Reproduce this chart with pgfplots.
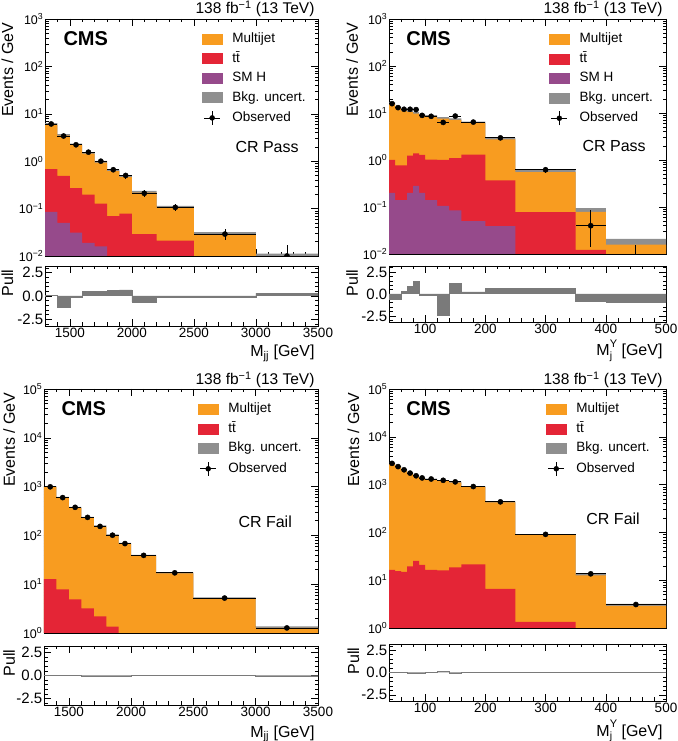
\documentclass[border=0pt]{standalone}
\usepackage{fontspec}
\setmainfont{Liberation Sans}
\usepackage{pgfplots}
\pgfplotsset{compat=1.18}
\definecolor{mj}{HTML}{F89C20}
\definecolor{ttc}{HTML}{E42536}
\definecolor{smh}{HTML}{964A8B}
\definecolor{unc}{HTML}{8F8F8F}
\definecolor{pullc}{HTML}{7A7A7A}
\newcommand{\lumi}{138 fb\textsuperscript{−1} (13 TeV)}
\newcommand{\ttbar}{t\={t}}
\newcommand{\labfont}{\fontsize{16}{18}\selectfont}
\newcommand{\mjy}{M\rlap{\raisebox{-3.8pt}{\fontsize{10.5}{11}\selectfont j}}\raisebox{8.5pt}{\fontsize{11}{12}\selectfont Y} [GeV]}
\pgfplotsset{
  cmsbase/.style={
    scale only axis, anchor=south west, clip mode=individual,
    axis line style={black, line width=0.6pt},
    every tick/.style={black, line width=0.5pt},
    major tick length=7pt, minor tick length=3.5pt,
    xticklabel style={font=\fontsize{13.5}{15}\selectfont, inner sep=2pt,
      /pgf/number format/assume math mode=true, /pgf/number format/set thousands separator={}},
    yticklabel style={font=\fontsize{12.5}{14}\selectfont, inner sep=1.5pt},
  },
  cmsmain/.style={cmsbase, xticklabels={},
    log number format basis/.code 2 args={%
      \pgfmathtruncatemacro\cmsexp{round(##2)}%
      ##1\textsuperscript{\ifnum\cmsexp<0 −\the\numexpr-\cmsexp\relax\else\cmsexp\fi}},
    legend cell align=left,
    legend style={draw=none, fill=none, inner sep=0pt, outer sep=0pt, anchor=north west,
      font=\fontsize{13.5}{15}\selectfont, row sep=6.5pt, column sep=10pt,
      nodes={inner sep=0pt, text height=10pt, text depth=3pt}},
  },
  cmspull/.style={cmsbase, ymin=-3.2, ymax=3.2, ytick={-2.5,0,2.5}, yticklabels={-2.5,0.0,2.5},
    minor ytick={-3,-2.5,...,3}, yticklabel style={font=\fontsize{15}{16}\selectfont}},
  legbox/.style={legend image code/.code={\fill[#1] (0pt,-5pt) rectangle (20pt,5pt);}},
  legobs/.style={legend image code/.code={\draw[black, line width=0.8pt] (2pt,0pt)--(18pt,0pt) (10pt,-7pt)--(10pt,7pt); \fill[black] (10pt,0pt) circle (2.5pt);}},
  hist/.style={forget plot, const plot, draw=none, fill=#1},
  pullhist/.style={forget plot, const plot, draw=pullc, line width=0.5pt, fill=pullc},
  datastyle/.style={forget plot, only marks, mark=*, mark size=2.6pt, black, mark options={fill=black},
    error bars/x dir=both, error bars/x explicit, error bars/y dir=both, error bars/y explicit,
    error bars/error mark=none, error bars/error bar style={line width=0.8pt, black}},
}
\begin{document}
\begin{tikzpicture}
%================ TOP LEFT =================
\begin{axis}[ymode=log, cmsmain, at={(45pt,485pt)}, width=273pt, height=237pt,
  xmin=1300, xmax=3500, ymin=1e-2, ymax=1e3, ytickten={-2,...,3},
  xtick={1500,2000,...,3500}, minor xtick={1300,1400,...,3500},
  clip marker paths=true, legend style={at={(0.575,0.943)}}]
\addlegendimage{legbox=mj}\addlegendentry{Multijet}
\addlegendimage{legbox=ttc}\addlegendentry{\ttbar}
\addlegendimage{legbox=smh}\addlegendentry{SM H}
\addlegendimage{legbox=unc}\addlegendentry{Bkg. uncert.}
\addlegendimage{legobs}\addlegendentry{Observed}
\addplot[hist=unc] coordinates {(1300,1e-4) (1300,6.35) (1400,3.74) (1500,2.34) (1600,1.56) (1700,1.01) (1800,0.665) (1900,0.50) (2000,0.236) (2200,0.114) (2500,0.0318) (3000,0.0112) (3500,0.0112) (3500,1e-4)};
\addplot[hist=mj] coordinates {(1300,1e-4) (1300,5.89) (1400,3.47) (1500,2.17) (1600,1.45) (1700,0.935) (1800,0.618) (1900,0.463) (2000,0.216) (2200,0.103) (2500,0.0288) (3000,0.001) (3500,0.001) (3500,1e-4)};
\addplot[hist=ttc] coordinates {(1300,1e-4) (1300,0.68) (1400,0.49) (1500,0.27) (1600,0.198) (1700,0.128) (1800,0.069) (1900,0.078) (2000,0.029) (2200,0.021) (2500,0.001) (3000,0.001) (3500,0.001) (3500,1e-4)};
\addplot[hist=smh] coordinates {(1300,1e-4) (1300,0.085) (1400,0.05) (1500,0.031) (1600,0.019) (1700,0.016) (1800,0.001) (1900,0.001) (2000,0.001) (2200,0.001) (2500,0.001) (3000,0.001) (3500,0.001) (3500,1e-4)};
\addplot[datastyle] coordinates {
(1350,6.1) +- (50,0.245)
(1450,3.4) +- (50,0.18)
(1550,2.22) +- (50,0.15)
(1650,1.55) +- (50,0.125)
(1750,1.0) +- (50,0.1)
(1850,0.66) +- (50,0.08)
(1950,0.50) +- (50,0.07)
(2100,0.21) +- (100,0.032)
(2350,0.106) +- (150,0.019)
(2750,0.029) +- (250,0.0076)
(3250,0.01) += (250,0.0068) -= (250,0)
};
\node[anchor=base west, font=\bfseries\fontsize{20}{21}\selectfont] at (rel axis cs:0.055,0.89) {CMS};
\node[anchor=base west, font=\fontsize{16}{18}\selectfont] at (rel axis cs:0.685,0.436) {CR Pass};
\node[anchor=base east, yshift=5.5pt, font=\fontsize{15.5}{17}\selectfont] at (rel axis cs:1,1) {\lumi};
\node[rotate=90, anchor=base east, font=\labfont] at (rel axis cs:-0.117,1) {Events / GeV};
\end{axis}
\begin{axis}[cmspull, at={(45pt,415pt)}, width=273pt, height=60pt,
  xmin=1300, xmax=3500, xtick={1500,2000,...,3500}, minor xtick={1300,1400,...,3500}]
\addplot[pullhist] coordinates {(1300,0) (1300,0.05) (1400,-1.25) (1500,-0.1) (1600,0.46) (1700,0.46) (1800,0.57) (1900,0.64) (2000,-0.64) (2200,-0.1) (2500,-0.15) (3000,0.3) (3500,0.3) (3500,0)};
\node[rotate=90, anchor=base east, font=\labfont] at (rel axis cs:-0.117,1) {Pull};
\node[anchor=base east, yshift=-31pt, font=\labfont] at (rel axis cs:1,0) {M\textsubscript{jj} [GeV]};
\end{axis}
%================ TOP RIGHT =================
\begin{axis}[ymode=log, cmsmain, at={(389pt,487pt)}, width=277pt, height=235pt,
  xmin=40, xmax=500, ymin=1e-2, ymax=1e3, ytickten={-2,...,3},
  xtick={100,200,...,500}, minor xtick={40,60,...,500},
  legend style={at={(0.578,0.941)}}]
\addlegendimage{legbox=mj}\addlegendentry{Multijet}
\addlegendimage{legbox=ttc}\addlegendentry{\ttbar}
\addlegendimage{legbox=smh}\addlegendentry{SM H}
\addlegendimage{legbox=unc}\addlegendentry{Bkg. uncert.}
\addlegendimage{legobs}\addlegendentry{Observed}
\addplot[hist=unc] coordinates {(40,1e-4) (40,17.0) (50,13.9) (60,11.9) (70,11.2) (80,10.4) (90,9.45) (100,9.0) (120,8.2) (140,7.7) (160,6.55) (200,2.97) (250,0.635) (350,0.095) (400,0.021) (500,0.021) (500,1e-4)};
\addplot[hist=mj] coordinates {(40,1e-4) (40,15.8) (50,12.9) (60,11.1) (70,10.4) (80,9.65) (90,8.8) (100,8.4) (120,7.6) (140,7.1) (160,6.05) (200,2.75) (250,0.55) (350,0.079) (400,0.0159) (500,0.0159) (500,1e-4)};
\addplot[hist=ttc] coordinates {(40,1e-4) (40,1.0) (50,0.77) (60,0.77) (70,1.24) (80,1.39) (90,1.28) (100,1.02) (120,1.0) (140,1.1) (160,1.3) (200,0.37) (250,0.078) (350,0.0123) (400,1e-4) (500,1e-4) (500,1e-4)};
\addplot[hist=smh] coordinates {(40,1e-4) (40,0.2) (50,0.14) (60,0.14) (70,0.2) (80,0.28) (90,0.2) (100,0.14) (120,0.105) (140,0.085) (160,0.05) (200,0.039) (250,1e-4) (350,1e-4) (400,1e-4) (500,1e-4) (500,1e-4)};
\addplot[datastyle] coordinates {
(45,15.8) +- (5,1.26)
(55,13.0) +- (5,1.14)
(65,12.0) +- (5,1.1)
(75,12.0) +- (5,1.1)
(85,11.8) +- (5,1.09)
(95,8.9) +- (5,0.94)
(110,8.5) +- (10,0.65)
(130,6.3) +- (10,0.56)
(150,8.6) +- (10,0.66)
(180,6.4) +- (20,0.4)
(225,2.96) +- (25,0.24)
(300,0.62) +- (50,0.079)
(375,0.04) += (25,0.045) -= (25,0.026)
};
\addplot[forget plot, black, line width=0.8pt] coordinates {(450,0.01) (450,0.0156)};
\node[anchor=base west, font=\bfseries\fontsize{20}{21}\selectfont] at (rel axis cs:0.05,0.889) {CMS};
\node[anchor=base west, font=\fontsize{16}{18}\selectfont] at (rel axis cs:0.686,0.435) {CR Pass};
\node[anchor=base east, yshift=5.5pt, font=\fontsize{15.5}{17}\selectfont] at (rel axis cs:1,1) {\lumi};
\node[rotate=90, anchor=base east, font=\labfont] at (rel axis cs:-0.112,1) {Events / GeV};
\end{axis}
\begin{axis}[cmspull, at={(389pt,419pt)}, width=277pt, height=56pt,
  xmin=40, xmax=500, xtick={100,200,...,500}, minor xtick={40,60,...,500}]
\addplot[pullhist] coordinates {(40,0) (40,-0.55) (50,-0.55) (60,0.26) (70,0.86) (80,1.4) (90,-0.15) (100,-0.17) (120,-2.45) (140,1.2) (160,0.25) (200,0.6) (250,0.65) (350,-0.85) (400,-0.9) (500,-0.9) (500,0)};
\node[rotate=90, anchor=base east, font=\labfont] at (rel axis cs:-0.112,1) {Pull};
\node[anchor=base east, yshift=-34pt, font=\labfont] at (rel axis cs:1,0) {\mjy};
\end{axis}
%================ BOTTOM LEFT =================
\begin{axis}[ymode=log, cmsmain, at={(44pt,108pt)}, width=274pt, height=244pt,
  xmin=1300, xmax=3500, ymin=1, ymax=1e5, ytickten={0,...,5},
  xtick={1500,2000,...,3500}, minor xtick={1300,1400,...,3500},
  legend style={at={(0.562,0.943)}}]
\addlegendimage{legbox=mj}\addlegendentry{Multijet}
\addlegendimage{legbox=ttc}\addlegendentry{\ttbar}
\addlegendimage{legbox=unc}\addlegendentry{Bkg. uncert.}
\addlegendimage{legobs}\addlegendentry{Observed}
\addplot[hist=unc] coordinates {(1300,0.01) (1300,1025) (1400,615) (1500,385) (1600,240) (1700,160) (1800,105.5) (1900,70.2) (2000,40) (2200,17.5) (2500,5.37) (3000,1.36) (3500,1.36) (3500,0.01)};
\addplot[hist=mj] coordinates {(1300,0.01) (1300,975) (1400,585) (1500,367) (1600,228) (1700,152) (1800,100.5) (1900,66.8) (2000,38) (2200,16.7) (2500,5.1) (3000,1.27) (3500,1.27) (3500,0.01)};
\addplot[hist=ttc] coordinates {(1300,0.01) (1300,12.7) (1400,7.8) (1500,4.9) (1600,3.2) (1700,2.2) (1800,1.35) (1900,0.1) (2000,0.1) (2200,0.1) (2500,0.1) (3000,0.1) (3500,0.1) (3500,0.01)};
\addplot[datastyle] coordinates {
(1350,990) +- (50,3.15)
(1450,595) +- (50,2.44)
(1550,376) +- (50,1.94)
(1650,234) +- (50,1.53)
(1750,153) +- (50,1.24)
(1850,101) +- (50,1.0)
(1950,68) +- (50,0.82)
(2100,39) +- (100,0.44)
(2350,17.1) +- (150,0.24)
(2750,5.2) +- (250,0.1)
(3250,1.27) +- (250,0.05)
};
\node[anchor=base west, font=\bfseries\fontsize{20}{21}\selectfont] at (rel axis cs:0.051,0.893) {CMS};
\node[anchor=base west, font=\fontsize{16}{18}\selectfont] at (rel axis cs:0.697,0.434) {CR Fail};
\node[anchor=base east, yshift=4.5pt, font=\fontsize{15.5}{17}\selectfont] at (rel axis cs:1,1) {\lumi};
\node[rotate=90, anchor=base east, font=\labfont] at (rel axis cs:-0.106,1) {Events / GeV};
\end{axis}
\begin{axis}[cmspull, at={(44pt,36pt)}, width=274pt, height=59pt,
  xmin=1300, xmax=3500, xtick={1500,2000,...,3500}, minor xtick={1300,1400,...,3500}]
\addplot[pullhist] coordinates {(1300,0) (1300,0.03) (1400,0.03) (1500,0.03) (1600,-0.08) (1700,-0.08) (1800,-0.08) (1900,-0.08) (2000,0.01) (2200,0.01) (2500,0.01) (3000,-0.03) (3500,-0.03) (3500,0)};
\node[rotate=90, anchor=base east, font=\labfont] at (rel axis cs:-0.106,1) {Pull};
\node[anchor=base east, yshift=-32pt, font=\labfont] at (rel axis cs:1,0) {M\textsubscript{jj} [GeV]};
\end{axis}
%================ BOTTOM RIGHT =================
\begin{axis}[ymode=log, cmsmain, at={(389pt,113pt)}, width=277pt, height=239pt,
  xmin=40, xmax=500, ymin=1, ymax=1e5, ytickten={0,...,5},
  xtick={100,200,...,500}, minor xtick={40,60,...,500},
  legend style={at={(0.567,0.942)}}]
\addlegendimage{legbox=mj}\addlegendentry{Multijet}
\addlegendimage{legbox=ttc}\addlegendentry{\ttbar}
\addlegendimage{legbox=unc}\addlegendentry{Bkg. uncert.}
\addlegendimage{legobs}\addlegendentry{Observed}
\addplot[hist=unc] coordinates {(40,0.01) (40,2870) (50,2460) (60,2090) (70,1785) (80,1560) (90,1405) (100,1333) (120,1240) (140,1158) (160,933) (200,447) (250,92.5) (350,13.9) (400,3.2) (500,3.2) (500,0.01)};
\addplot[hist=mj] coordinates {(40,0.01) (40,2730) (50,2340) (60,1990) (70,1697) (80,1482) (90,1336) (100,1268) (120,1180) (140,1102) (160,887) (200,425) (250,87.7) (350,12.6) (400,2.9) (500,2.9) (500,0.01)};
\addplot[hist=ttc] coordinates {(40,0.01) (40,16.5) (50,15.5) (60,15.0) (70,19.5) (80,25.5) (90,21.0) (100,16.5) (120,16.0) (140,18.5) (160,21.5) (200,6.6) (250,1.35) (350,0.1) (400,0.1) (500,0.1) (500,0.01)};
\addplot[datastyle] coordinates {
(45,2780) +- (5,16.7)
(55,2380) +- (5,15.4)
(65,2040) +- (5,14.3)
(75,1740) +- (5,13.2)
(85,1530) +- (5,12.4)
(95,1380) +- (5,11.7)
(110,1310) +- (10,8.1)
(130,1230) +- (10,7.8)
(150,1140) +- (10,7.5)
(180,910) +- (20,4.8)
(225,436) +- (25,2.95)
(300,91) +- (50,0.95)
(375,13.6) +- (25,0.52)
(450,3.1) +- (50,0.18)
};
\node[anchor=base west, font=\bfseries\fontsize{20}{21}\selectfont] at (rel axis cs:0.05,0.891) {CMS};
\node[anchor=base west, font=\fontsize{16}{18}\selectfont] at (rel axis cs:0.70,0.431) {CR Fail};
\node[anchor=base east, yshift=4.5pt, font=\fontsize{15.5}{17}\selectfont] at (rel axis cs:1,1) {\lumi};
\node[rotate=90, anchor=base east, font=\labfont] at (rel axis cs:-0.108,1) {Events / GeV};
\end{axis}
\begin{axis}[cmspull, at={(389pt,40pt)}, width=277pt, height=57pt,
  xmin=40, xmax=500, xtick={100,200,...,500}, minor xtick={40,60,...,500}]
\addplot[pullhist] coordinates {(40,0) (40,0) (50,0) (60,-0.02) (70,-0.05) (80,-0.08) (90,-0.05) (100,0.02) (120,0.1) (140,-0.06) (160,0) (200,0) (250,0) (350,0.03) (400,0.02) (500,0.02) (500,0)};
\node[rotate=90, anchor=base east, font=\labfont] at (rel axis cs:-0.108,1) {Pull};
\node[anchor=base east, yshift=-35pt, font=\labfont] at (rel axis cs:1,0) {\mjy};
\end{axis}
\pgfresetboundingbox
\path[use as bounding box] (0pt,0pt) rectangle (677pt,741pt);
\end{tikzpicture}
\end{document}
